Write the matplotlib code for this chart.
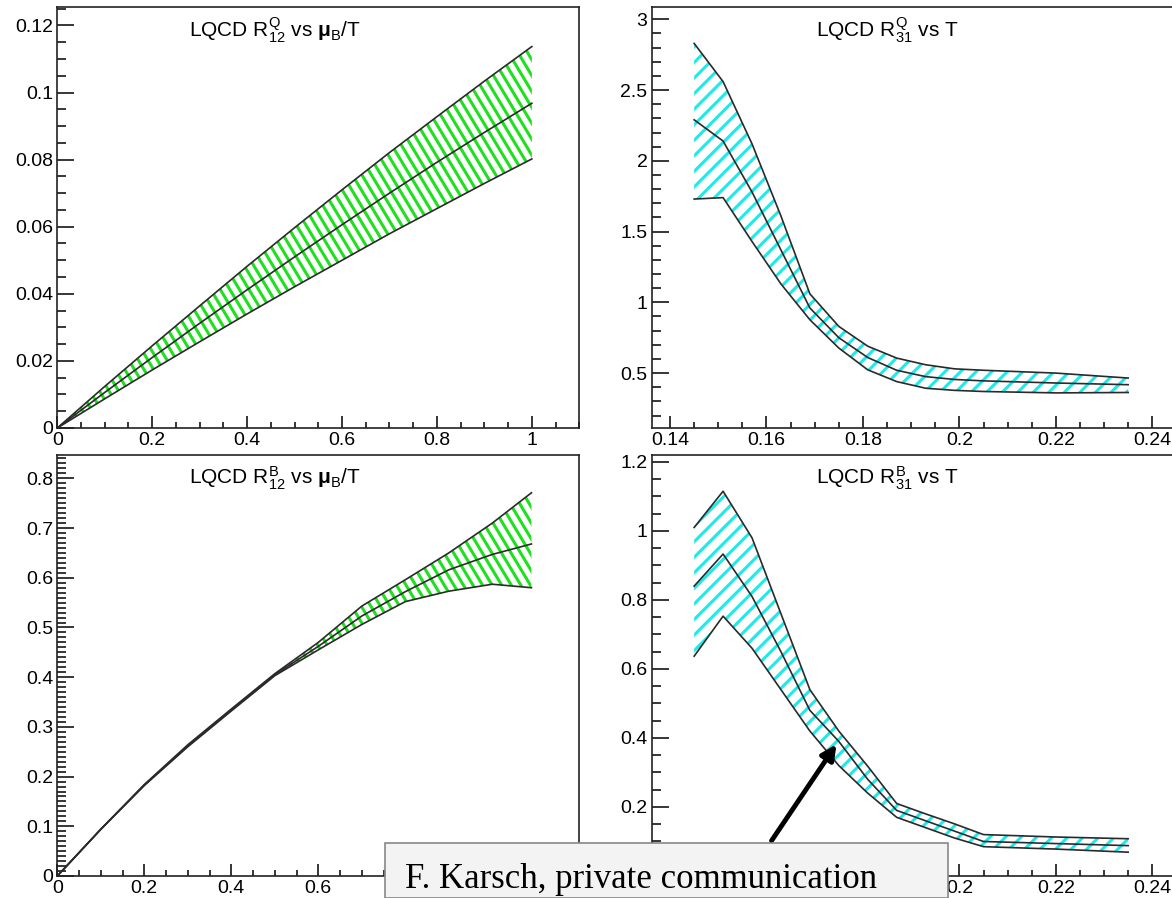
import numpy as np
import matplotlib
matplotlib.use('Agg')
import matplotlib.pyplot as plt
from matplotlib.collections import LineCollection

plt.rcParams['font.family'] = ['Liberation Sans', 'DejaVu Sans']
plt.rcParams['mathtext.fontset'] = 'custom'
plt.rcParams['mathtext.rm'] = 'Liberation Sans'
plt.rcParams['mathtext.it'] = 'Liberation Sans'
plt.rcParams['mathtext.bf'] = 'Liberation Sans:bold'

# R12^Q vs mu_B/T
mu_q = [0.0, 0.1, 0.2, 0.3, 0.4, 0.5, 0.6, 0.7, 0.8, 0.9, 1.0]
rq12_hi = [0, 0.0124, 0.0245, 0.0364, 0.0482, 0.0597, 0.0710, 0.0821, 0.0928, 0.1034, 0.1137]
rq12_mid = [0, 0.0106, 0.0210, 0.0312, 0.0412, 0.0510, 0.0606, 0.0700, 0.0792, 0.0881, 0.0968]
rq12_lo = [0, 0.0087, 0.0173, 0.0257, 0.0340, 0.0421, 0.0500, 0.0579, 0.0654, 0.0729, 0.0802]

# R31^Q vs T
T_q = [0.145, 0.151, 0.157, 0.163, 0.169, 0.175, 0.181, 0.187, 0.193, 0.199, 0.205, 0.220, 0.235]
rq31_hi = [2.83, 2.56, 2.12, 1.61, 1.06, 0.83, 0.69, 0.606, 0.559, 0.53, 0.52, 0.50, 0.465]
rq31_mid = [2.29, 2.14, 1.78, 1.37, 0.96, 0.75, 0.61, 0.52, 0.475, 0.455, 0.445, 0.43, 0.418]
rq31_lo = [1.73, 1.74, 1.43, 1.13, 0.877, 0.677, 0.523, 0.44, 0.393, 0.378, 0.37, 0.36, 0.363]

# R12^B vs mu_B/T
mu_b = [0.0, 0.1, 0.2, 0.3, 0.4, 0.5, 0.6, 0.7, 0.8, 0.9, 1.0, 1.09]
rb12_hi = [0, 0.094, 0.184, 0.264, 0.336, 0.407, 0.470, 0.543, 0.596, 0.650, 0.710, 0.771]
rb12_mid = [0, 0.094, 0.183, 0.262, 0.334, 0.405, 0.462, 0.523, 0.572, 0.616, 0.647, 0.668]
rb12_lo = [0, 0.094, 0.182, 0.260, 0.332, 0.403, 0.455, 0.506, 0.552, 0.573, 0.587, 0.580]

# R31^B vs T
T_b = [0.145, 0.151, 0.157, 0.163, 0.169, 0.175, 0.181, 0.187, 0.193, 0.199, 0.205, 0.220, 0.235]
rb31_hi = [1.01, 1.115, 0.98, 0.76, 0.54, 0.42, 0.318, 0.21, 0.18, 0.151, 0.12, 0.113, 0.108]
rb31_mid = [0.84, 0.933, 0.81, 0.65, 0.48, 0.39, 0.28, 0.19, 0.16, 0.13, 0.10, 0.094, 0.088]
rb31_lo = [0.637, 0.753, 0.66, 0.54, 0.42, 0.32, 0.24, 0.17, 0.14, 0.11, 0.085, 0.078, 0.069]

W, H = 1172, 898
fig = plt.figure(figsize=(W / 100, H / 100), dpi=100)


def make_ax(l, r, t, b):
    return fig.add_axes([l / W, 1 - b / H, (r - l) / W, (b - t) / H])


def fmt(hide=lambda v: False):
    return plt.FuncFormatter(lambda v, p: '' if hide(v) else ('%g' % round(v, 4)))


def style(ax, xlim, ylim, xmaj, xmin, ymaj, ymin, xhide=lambda v: False, yhide=lambda v: False, xtl=12, ytl=17):
    ax.set_xlim(*xlim)
    ax.set_ylim(*ylim)
    ax.xaxis.set_major_locator(plt.MultipleLocator(xmaj))
    ax.xaxis.set_minor_locator(plt.MultipleLocator(xmin))
    ax.yaxis.set_major_locator(plt.MultipleLocator(ymaj))
    ax.yaxis.set_minor_locator(plt.MultipleLocator(ymin))
    ax.tick_params(axis='x', which='major', direction='in', length=xtl * 0.72, width=1.1, labelsize=14, pad=3)
    ax.tick_params(axis='x', which='minor', direction='in', length=xtl * 0.36, width=1.1)
    ax.tick_params(axis='y', which='major', direction='in', length=ytl * 0.72, width=1.1, labelsize=14, pad=3)
    ax.tick_params(axis='y', which='minor', direction='in', length=ytl * 0.36, width=1.1)
    for s in ax.spines.values():
        s.set_linewidth(1.2)
        s.set_color('#222222')
    ax.xaxis.set_major_formatter(fmt(xhide))
    ax.yaxis.set_major_formatter(fmt(yhide))


def hatch(ax, poly, color, angle, spacing, lw=2.2):
    bb = ax.get_window_extent()
    w, h = bb.width, bb.height
    a = np.deg2rad(angle)
    d = np.array([np.cos(a), np.sin(a)])
    n = np.array([-d[1], d[0]])
    L = np.hypot(w, h)
    segs = []
    for off in np.arange(-L, L, spacing):
        c = np.array([w / 2, h / 2]) + n * off
        p0 = c - d * L
        p1 = c + d * L
        segs.append([(p0[0] / w, p0[1] / h), (p1[0] / w, p1[1] / h)])
    lc = LineCollection(segs, colors=color, linewidths=lw, transform=ax.transAxes)
    ax.add_collection(lc)
    lc.set_clip_path(poly.get_paths()[0], ax.transData)


def band(ax, x, lo, mid, hi, color, angle, spacing):
    poly = ax.fill_between(x, lo, hi, facecolor='none', edgecolor='none', linewidth=0)
    hatch(ax, poly, color, angle, spacing)
    for yy in (hi, mid, lo):
        ax.plot(x, yy, color='#2a2a2a', lw=1.2)


green = '#1ee01e'
cyan = '#1eeaea'

ax1 = make_ax(57.3, 579.3, 7.3, 428)
style(ax1, (0, 1.1), (0, 0.1254), 0.2, 0.05, 0.02, 0.005)
band(ax1, mu_q, rq12_lo, rq12_mid, rq12_hi, green, -59, 8.2)

ax2 = make_ax(651.7, 1174, 7.3, 428)
style(ax2, (0.1362, 0.2445), (0.112, 3.085), 0.02, 0.005, 0.5, 0.1)
band(ax2, T_q, rq31_lo, rq31_mid, rq31_hi, cyan, 45, 11)

ax3 = make_ax(57.3, 579.3, 455, 876)
style(ax3, (0, 1.2), (0, 0.847), 0.2, 0.05, 0.1, 0.01, xhide=lambda v: v > 0.7)
band(ax3, mu_b, rb12_lo, rb12_mid, rb12_hi, green, -59, 8.2)

ax4 = make_ax(651.7, 1174, 455, 876)
style(ax4, (0.1362, 0.2445), (0, 1.22), 0.02, 0.005, 0.2, 0.05,
      xhide=lambda v: v < 0.19, yhide=lambda v: v < 0.1)
band(ax4, T_b, rb31_lo, rb31_mid, rb31_hi, cyan, 45, 11)

fs = 15
fig.text(275 / W, 1 - 30 / H, r'LQCD R$_{12}^{Q}$ vs $\mathbf{\mu}_{B}$/T', ha='center', va='center', fontsize=fs)
fig.text(887 / W, 1 - 30 / H, r'LQCD R$_{31}^{Q}$ vs T', ha='center', va='center', fontsize=fs)
fig.text(275 / W, 1 - 478 / H, r'LQCD R$_{12}^{B}$ vs $\mathbf{\mu}_{B}$/T', ha='center', va='center', fontsize=fs)
fig.text(887 / W, 1 - 478 / H, r'LQCD R$_{31}^{B}$ vs T', ha='center', va='center', fontsize=fs)

# annotation box and arrow
fig.patches.append(plt.Rectangle((385 / W, 0), (948 - 385) / W, (H - 843) / H, transform=fig.transFigure,
                                 facecolor='#f3f3f3', edgecolor='#888888', lw=1.2, zorder=5))
fig.text(405 / W, 1 - 879 / H, 'F. Karsch, private communication', fontsize=25,
         family=['Liberation Serif', 'DejaVu Serif'], va='center', ha='left', zorder=6)
ax4.annotate('', xy=(838 / W, 1 - 742 / H), xytext=(770 / W, 1 - 843 / H),
             xycoords='figure fraction', textcoords='figure fraction',
             arrowprops=dict(arrowstyle='-|>', color='black', lw=3.5, mutation_scale=22))

fig.savefig('out.png', dpi=100)
